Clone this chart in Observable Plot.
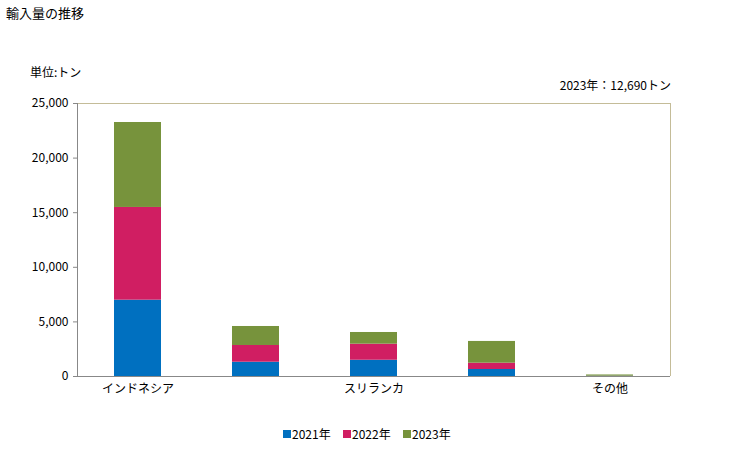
<!DOCTYPE html>
<html><head><meta charset="utf-8">
<script src="https://cdn.jsdelivr.net/npm/d3@7"></script>
<script src="https://cdn.jsdelivr.net/npm/@observablehq/plot@0.6"></script>
<style>
body{margin:0;background:#fff;font-family:"Noto Sans CJK JP","Noto Sans",sans-serif;}
#wrap{position:relative;width:729px;height:450px;}
.t{position:absolute;font-size:12px;color:#000;white-space:nowrap;line-height:1;}
#chart{position:absolute;left:0;top:0;}
.lg{position:absolute;top:425px;font-size:12px;display:flex;align-items:center;}
.sw{width:8px;height:8px;margin-right:1px;}
</style></head>
<body><div id="wrap">
<div id="chart"></div>
<div class="t" style="left:6px;top:6px;font-size:13px;">輸入量の推移</div>
<div class="t" style="left:30px;top:66px;">単位:トン</div>
<div class="t" style="right:58px;top:79px;">2023年：12,690トン</div>
<div id="legend"></div>
</div>
<script>
const categories = ["インドネシア","国2","スリランカ","国4","その他"];
const tickLabels = ["インドネシア","","スリランカ","","その他"];
const years = ["2021年","2022年","2023年"];
const v2021 = [6990, 1310, 1490, 640, 20];
const v2022 = [8490, 1530, 1470, 580, 10];
const v2023 = [7780, 1740, 1070, 1990, 110];
const colors = ["#0070c0","#d01e62","#77933c"];
const yTicks = [0,5000,10000,15000,20000,25000];

const series = [v2021, v2022, v2023];
const data = [];
categories.forEach((c,i)=>years.forEach((y,j)=>data.push({cat:c, year:y, value:series[j][i]})));

const plot = Plot.plot({
  width:729, height:450,
  marginTop:103, marginBottom:74, marginLeft:77, marginRight:59,
  style:{fontFamily:"'Noto Sans CJK JP','Noto Sans',sans-serif", fontSize:"12px", color:"#000"},
  x:{domain:categories, paddingInner:0.6, paddingOuter:0.3, label:null},
  y:{domain:[0,25000], label:null},
  color:{domain:years, range:colors},
  marks:[
    Plot.barY(data,{x:"cat", y:"value", fill:"year"}),
    Plot.ruleY([25000],{stroke:"#c4bc98"}),
    Plot.axisY({ticks:yTicks, tickFormat:d3.format(","), tickSize:4, tickPadding:5, stroke:"#888", fill:"#000", fontSize:12}),
    Plot.axisX({tickSize:0, tickPadding:8, tickFormat:d=>tickLabels[categories.indexOf(d)], fontSize:12, fill:"#000"}),
    Plot.ruleY([0],{stroke:"#888"})
  ]
});
const svg = d3.select(plot);
svg.append("line").attr("x1",77.5).attr("x2",77.5).attr("y1",103).attr("y2",376).attr("stroke","#888");
svg.append("line").attr("x1",670.5).attr("x2",670.5).attr("y1",103).attr("y2",376).attr("stroke","#c4bc98");
document.getElementById("chart").appendChild(plot);

const lg = document.getElementById("legend");
years.forEach((y,i)=>{
  const d = document.createElement("div");
  d.className="lg"; d.style.left=(283+i*60)+"px";
  d.innerHTML=`<span class="sw" style="background:${colors[i]}"></span><span>${y}</span>`;
  lg.appendChild(d);
});
</script></body></html>
